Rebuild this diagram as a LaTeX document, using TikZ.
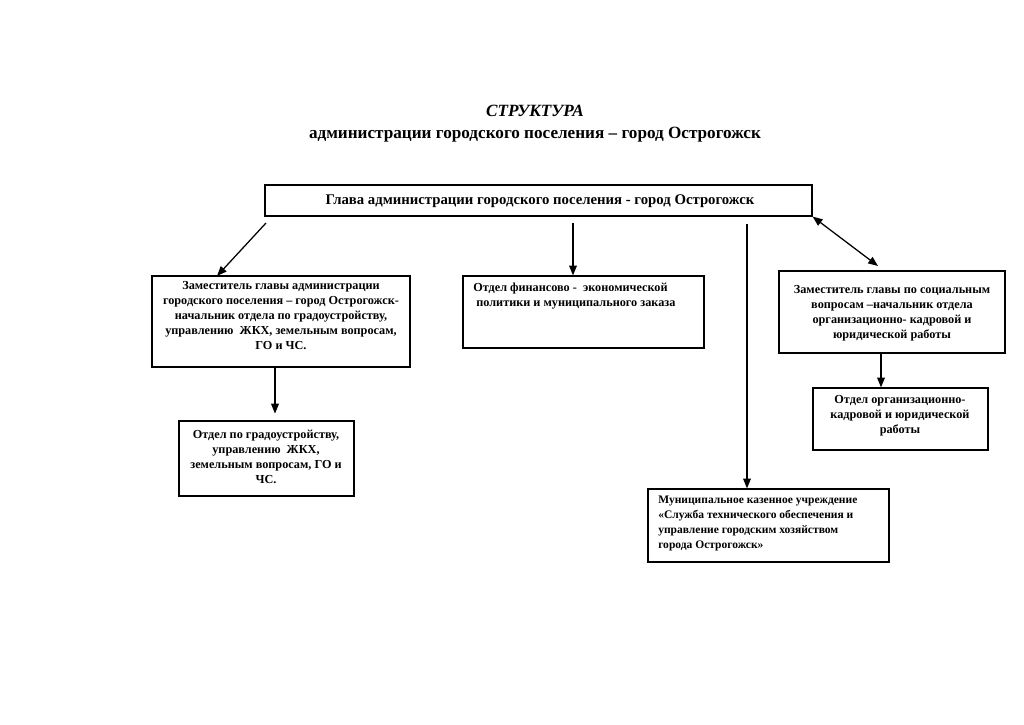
\documentclass[tikz,border=0pt]{standalone}
\usepackage{fontspec}
\setmainfont{Liberation Serif}
\usetikzlibrary{fit}
\usetikzlibrary{arrows.meta}
\tikzstyle{BoxOrg}=[draw,line width=0.9pt,inner sep=0pt]
\tikzstyle{TextOrg}=[anchor=north,align=center,inner sep=0pt,font=\fontsize{8.7}{10.6}\selectfont\bfseries]
\tikzstyle{TextLeft}=[TextOrg,anchor=north west,align=left]
\tikzstyle{EdgeOrg}=[line width=0.9pt,-{Triangle[length=7pt,width=5.5pt]}]
\tikzstyle{EdgeBoth}=[line width=0.9pt,{Triangle[length=7pt,width=5.5pt]}-{Triangle[length=7pt,width=5.5pt]}]

\begin{document}
\begin{tikzpicture}[x=0.025cm,y=-0.025cm]
\useasboundingbox (0,0) rectangle (1024,724);
        \node[font=\fontsize{12.2}{14}\selectfont\bfseries\itshape](tit)at(535,111){СТРУКТУРА};
        \node[font=\fontsize{12.2}{14}\selectfont\bfseries](sub)at(535,135){администрации городского поселения – город Острогожск};
        % boxes
        \node[BoxOrg,fit={(265,185) (812,216)}](head){};
        \node[BoxOrg,fit={(152,276) (410,367)}](zamA){};
        \node[BoxOrg,fit={(463,276) (704,348)}](fin){};
        \node[BoxOrg,fit={(779,271) (1005,353)}](zamB){};
        \node[BoxOrg,fit={(813,388) (988,450)}](kadr){};
        \node[BoxOrg,fit={(179,421) (354,496)}](grad){};
        \node[BoxOrg,fit={(648,489) (889,562)}](mku){};
        % texts
        \node[TextOrg,anchor=center,font=\fontsize{10.5}{12}\selectfont\bfseries](headT)at(540,201){Глава администрации городского поселения - город Острогожск};
        \node[TextOrg](zamAT)at(281,281){Заместитель главы администрации\\городского поселения – город Острогожск-\\начальник отдела по градоустройству,\\управлению~~ЖКХ, земельным вопросам,\\ГО и ЧС.};
        \node[TextLeft](finT)at(473,283){Отдел финансово -~~экономической\\~политики и муниципального заказа};
        \node[TextOrg](zamBT)at(892,285){Заместитель главы по социальным\\вопросам –начальник отдела\\организационно- кадровой и\\юридической работы};
        \node[TextOrg](kadrT)at(900,395){Отдел организационно-\\кадровой и юридической\\работы};
        \node[TextOrg](gradT)at(266,430){Отдел по градоустройству,\\управлению~~ЖКХ,\\земельным вопросам, ГО и\\ЧС.};
        \node[TextLeft,font=\fontsize{8.2}{10.6}\selectfont\bfseries](mkuT)at(658,496){Муниципальное казенное учреждение\\«Служба технического обеспечения и\\управление городским хозяйством\\города Острогожск»};
        % arrows
        \coordinate(sA)at(266,223);
        \coordinate(eA)at(217,276);
        \coordinate(xB)at(573,223);
        \coordinate(xC)at(747,224);
        \coordinate(eD)at(878,266);
        \coordinate(xE)at(275,0);
        \coordinate(xF)at(881,0);
        \draw[EdgeOrg](sA)--(eA);
        \draw[EdgeOrg](xB)--(xB|-fin.north);
        \draw[EdgeOrg](xC)--(xC|-mku.north);
        \draw[EdgeBoth](head.south east)--(eD);
        \draw[EdgeOrg,shorten >=0.17cm](xE|-zamA.south)--(xE|-grad.north);
        \draw[EdgeOrg](xF|-zamB.south)--(xF|-kadr.north);
    \end{tikzpicture}
\end{document}
